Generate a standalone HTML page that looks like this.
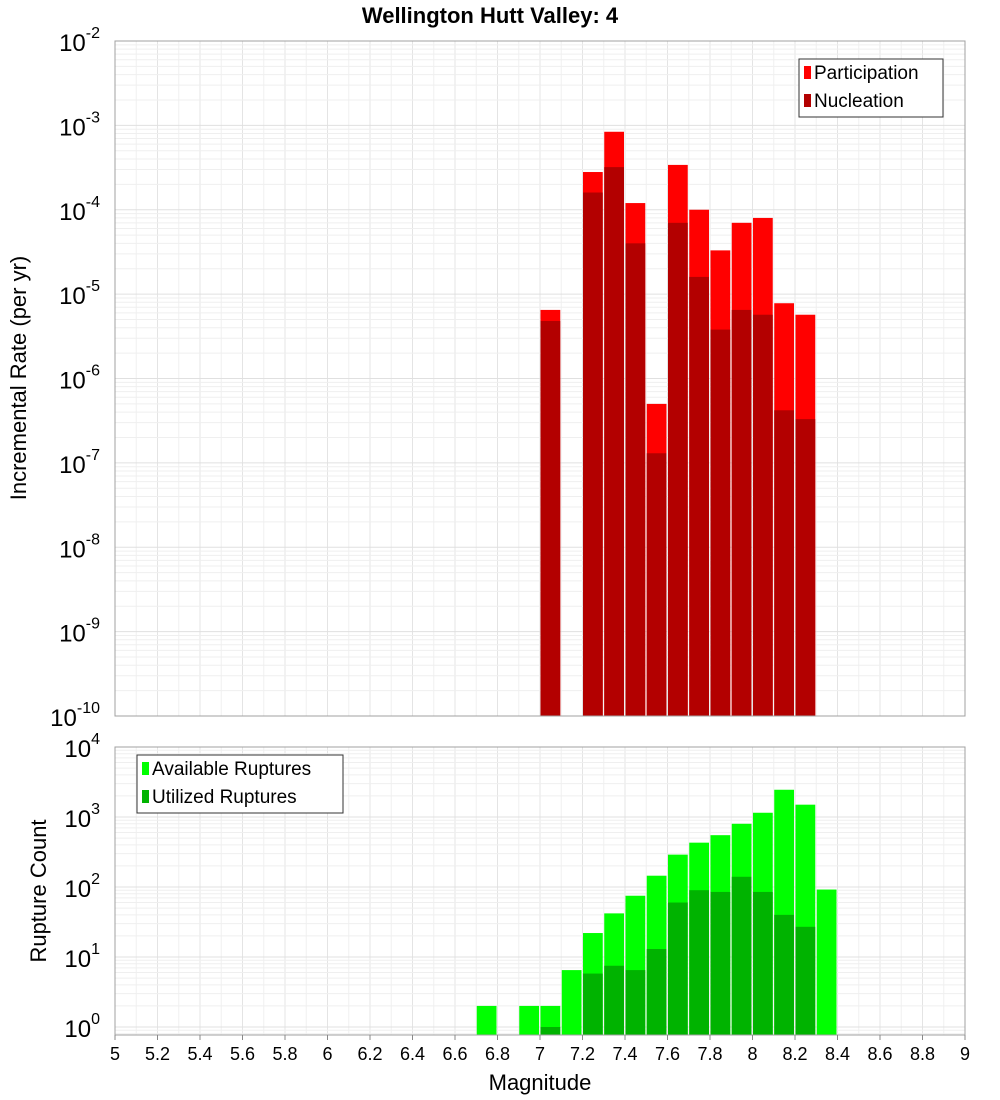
<!DOCTYPE html>
<html><head><meta charset="utf-8"><style>
html,body{margin:0;padding:0;background:#fff;}
svg{display:block;font-family:"Liberation Sans","DejaVu Sans",sans-serif;}
</style></head><body>
<svg id="chart" width="1000" height="1100">
<text x="490" y="23" text-anchor="middle" font-size="22" font-weight="bold">Wellington Hutt Valley: 4</text>
<text transform="translate(26,378) rotate(-90)" text-anchor="middle" font-size="22">Incremental Rate (per yr)</text>
<text transform="translate(46,891) rotate(-90)" text-anchor="middle" font-size="22">Rupture Count</text>
<text x="540" y="1090" text-anchor="middle" font-size="22">Magnitude</text>
<g id="topPlot"></g>
<g id="botPlot"></g>
<g id="xt"></g>
</svg>
<script>
const mags = [6.75,6.95,7.05,7.15,7.25,7.35,7.45,7.55,7.65,7.75,7.85,7.95,8.05,8.15,8.25,8.35];
const participation = [null,null,6.5e-6,null,2.8e-4,8.4e-4,1.2e-4,5e-7,3.4e-4,1e-4,3.3e-5,7e-5,8e-5,7.8e-6,5.7e-6,null];
const nucleation = [null,null,4.8e-6,null,1.6e-4,3.2e-4,4e-5,1.3e-7,7e-5,1.6e-5,3.8e-6,6.5e-6,5.7e-6,4.2e-7,3.3e-7,null];
const available = [2,2,2,6.5,22,42,75,145,290,430,550,800,1150,2450,1500,92];
const utilized = [null,null,1,null,5.8,7.5,6.5,13,60,90,85,140,85,40,27,null];
const xTicks = [5,5.2,5.4,5.6,5.8,6,6.2,6.4,6.6,6.8,7,7.2,7.4,7.6,7.8,8,8.2,8.4,8.6,8.8,9];
const NS='http://www.w3.org/2000/svg';
const X0=115,X1=965;
const xs = m => X0+(m-5)*(X1-X0)/4;
const yTop = v => 41+84.375*(-2-Math.log10(v));
const yBot = v => 1027-70*Math.log10(v);
function mk(p,tag,a){const e=document.createElementNS(NS,tag);for(const k in a)e.setAttribute(k,a[k]);p.appendChild(e);return e;}
const gTop=document.getElementById('topPlot'), gBot=document.getElementById('botPlot'), gX=document.getElementById('xt');
function grid(g,y0,y1,yf,dmin,dmax){
  for(let i=0;i<=40;i++){const m=5+i*0.1;const l=mk(g,'line',{x1:xs(m),x2:xs(m),y1:y0,y2:y1,stroke:i%2==0?'#e4e4e4':'#f0f0f0','stroke-width':1});
    
    }
  for(let d=dmin;d<dmax;d++)for(let k=1;k<10;k++){const yy=yf(k*Math.pow(10,d));if(yy<y0||yy>y1)continue;
    const l=mk(g,'line',{x1:X0,x2:X1,y1:yy,y2:yy,stroke:k==1?'#e0e0e0':'#efefef','stroke-width':1});
    
    }
}
function ylabels(g,yf,dmin,dmax,y0,y1){
  for(let d=dmin;d<=dmax;d++){const yy=yf(Math.pow(10,d));if(yy<y0-2||yy>y1+2)continue;
    const t=mk(g,'text',{x:100,y:yy+10,'text-anchor':'end','font-size':24});
    
    
    t.appendChild(document.createTextNode('10'));
    const s=mk(t,'tspan',{dy:-13,'font-size':16});s.textContent=String(d);}
}
function bar(g,m,v,yf,ybase,fill,name){
  if(v==null)return;const y=yf(v);
  const r=mk(g,'rect',{x:xs(m-0.05)+0.5,y:y,width:xs(m+0.05)-xs(m-0.05)-1.5,height:ybase-y,fill:fill});
  
  
}
grid(gTop,41,716,yTop,-10,-2);
mags.forEach((m,i)=>bar(gTop,m,participation[i],yTop,716,'#ff0000','participation-bar'));
mags.forEach((m,i)=>bar(gTop,m,nucleation[i],yTop,716,'#b30000','nucleation-bar'));
mk(gTop,'rect',{x:X0,y:41,width:X1-X0,height:675,fill:'none',stroke:'#a0a0a0'});
ylabels(gTop,yTop,-10,-2,41,716);
grid(gBot,747,1035,yBot,-1,4);
mags.forEach((m,i)=>bar(gBot,m,available[i],yBot,1035,'#00ff00','available-bar'));
mags.forEach((m,i)=>bar(gBot,m,utilized[i],yBot,1035,'#00b300','utilized-bar'));
mk(gBot,'rect',{x:X0,y:747,width:X1-X0,height:288,fill:'none',stroke:'#a0a0a0'});
ylabels(gBot,yBot,0,4,747,1035);
xTicks.forEach(m=>{mk(gX,'line',{x1:xs(m),x2:xs(m),y1:1035,y2:1040,stroke:'#888'});
  const t=mk(gX,'text',{x:xs(m),y:1060,'text-anchor':'middle','font-size':18});
  
  
  t.textContent=String(m);});
function legend(g,bx,by,w,items){
  const lg=mk(g,'g',{});
  
  
  mk(lg,'rect',{x:bx,y:by,width:w,height:58,fill:'#fff',stroke:'#333'});
  items.forEach((it,i)=>{const yy=by+14+i*28;
    mk(lg,'rect',{x:bx+5,y:yy-7,width:7,height:13,fill:it[1]});
    const t=mk(lg,'text',{x:bx+15,y:yy+6,'font-size':19});
    
    
    t.textContent=it[0];});
}
legend(gTop,799,59,144,[['Participation','#ff0000'],['Nucleation','#b30000']]);
legend(gBot,137,755,206,[['Available Ruptures','#00ff00'],['Utilized Ruptures','#00b300']]);
</script>
</body></html>
